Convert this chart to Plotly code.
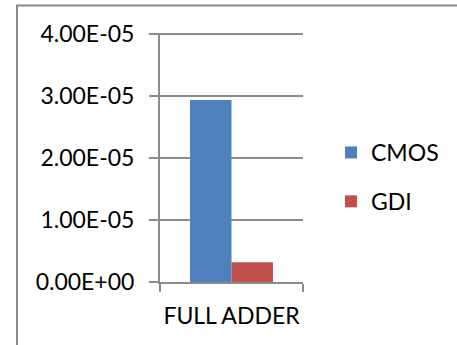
import plotly.graph_objects as go

categories = ["FULL ADDER"]
cmos_values = [2.94e-5]
gdi_values = [3.2e-6]
y_ticks = [0, 1e-5, 2e-5, 3e-5, 4e-5]
y_tick_labels = ["0.00E+00", "1.00E-05", "2.00E-05", "3.00E-05", "4.00E-05"]
y_max = 4.02e-5  # a little headroom so the top gridline is drawn

W, H = 457, 345
L, R, T, B = 160, 303, 33, 282  # plot area in pixels
GRID = "#8c8c8c"
FONT = "Lato"
FS = 23

fig = go.Figure()
fig.add_trace(go.Bar(name="CMOS", x=categories, y=cmos_values,
                     marker=dict(color="#4f81bd", line=dict(width=0)),
                     legendgroup="a"))
fig.add_trace(go.Bar(name="GDI", x=categories, y=gdi_values,
                     marker=dict(color="#c0504d", line=dict(width=0)),
                     legendgroup="b"))

def px_x(px):
    return (px - L) / (R - L)

def px_y(py):
    return (B - py) / (B - T)

fig.update_layout(
    width=W, height=H,
    margin=dict(l=L, r=W - R, t=T, b=H - B, pad=0, autoexpand=False),
    paper_bgcolor="white", plot_bgcolor="white",
    barmode="group", bargap=0.42, bargroupgap=0,
    font=dict(family=FONT, size=FS, color="#000000"),
    showlegend=True,
    legend=dict(x=px_x(331), y=px_y(131), xanchor="left", yanchor="top",
                traceorder="grouped", tracegroupgap=16,
                font=dict(family=FONT, size=FS, color="#000000"),
                bgcolor="rgba(0,0,0,0)", itemwidth=30),
    xaxis=dict(showline=True, linecolor=GRID, linewidth=2,
               ticks="outside", tickson="boundaries", ticklen=8,
               tickwidth=2, tickcolor=GRID, showgrid=False,
               tickangle=0, automargin=False, ticklabelstandoff=12,
               tickfont=dict(family=FONT, size=FS, color="#000000")),
    yaxis=dict(range=[0, y_max], tickvals=y_ticks, ticktext=y_tick_labels,
               showline=True, linecolor=GRID, linewidth=2,
               ticks="outside", ticklen=9, tickwidth=2, tickcolor=GRID,
               showgrid=True, gridcolor=GRID, gridwidth=2,
               zeroline=False, automargin=False, ticklabelstandoff=10,
               tickfont=dict(family=FONT, size=FS, color="#000000")),
)

# outer chart border, running off the right and bottom edges
fig.add_shape(type="rect", xref="paper", yref="paper",
              x0=px_x(17), x1=px_x(470), y0=px_y(360), y1=px_y(5.5),
              line=dict(color="#8a8a8a", width=2), fillcolor="rgba(0,0,0,0)",
              layer="below")

fig.write_html("out.html")
